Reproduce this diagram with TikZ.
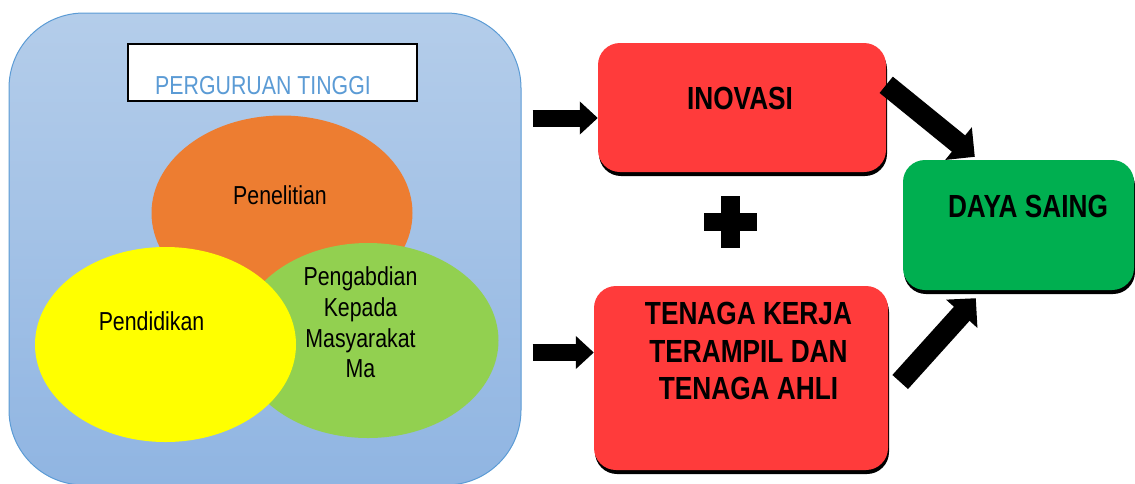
\documentclass[tikz,border=0pt]{standalone}
\usepackage{fontspec}
\newfontfamily\narrowfont{Liberation Sans}[FakeStretch=0.82]
\usetikzlibrary{arrows.meta,shapes.geometric,shadows,positioning}
\definecolor{panelTop}{HTML}{B4CDEA}
\definecolor{panelBot}{HTML}{90B5E2}
\definecolor{panelLine}{HTML}{5B9BD5}
\definecolor{orangeC}{HTML}{ED7D31}
\definecolor{yellowC}{HTML}{FFFF00}
\definecolor{greenC}{HTML}{92D050}
\definecolor{redBox}{HTML}{FF3B3B}
\definecolor{greenBox}{HTML}{00AF50}
\tikzset{
  circlenode/.style={ellipse, minimum width=261pt, minimum height=195pt, inner sep=0pt},
  smalltext/.style={font=\narrowfont\fontsize{26}{30.7}\selectfont, align=center, inner sep=0pt},
  bigtext/.style={font=\narrowfont\bfseries\fontsize{32}{37.7}\selectfont, align=center, inner sep=0pt},
  outbox/.style={rounded corners=22pt, drop shadow={shadow xshift=1pt, shadow yshift=-4pt, opacity=1, fill=black}},
  blockarrow/.style={line width=17pt, -{Triangle[length=18pt, width=32pt]}},
  bigarrow/.style={line width=21pt, -{Triangle[length=21pt, width=41pt]}}
}

\begin{document}
\begin{tikzpicture}[x=1pt,y=-1pt]
    \useasboundingbox (0,0) rectangle (1135,483);
    \node[draw=panelLine, line width=1pt, rounded corners=75pt, top color=panelTop, bottom color=panelBot,
          minimum width=512pt, minimum height=472pt] (panel) at (265,249) {};
    \node[draw, fill=white, line width=1.2pt, minimum width=289pt, minimum height=57pt, inner sep=0pt] (titlebox) at (272.5,72.5) {};
    \node[smalltext, text=panelLine, anchor=base] (title) at (263,94) {PERGURUAN TINGGI};
    \foreach \name/\col/\cx/\cy in {riset/orangeC/282/213, abdi/greenC/368/340.5, didik/yellowC/165.5/344.5}{
        \node[circlenode, fill=\col] (\name) at (\cx,\cy) {};
    }
    \node[smalltext] (risettext) at ([xshift=-2pt,yshift=18pt]riset.center) {Penelitian};
    \node[smalltext] (didiktext) at ([xshift=-14pt,yshift=23.5pt]didik.center) {Pendidikan};
    \node[smalltext] (abditext) at ([xshift=-7.5pt,yshift=18pt]abdi.center) {Pengabdian\\Kepada\\Masyarakat\\Ma};

    \node[outbox, fill=redBox, minimum width=288pt, minimum height=129pt] (inovasi) at (742,107.5) {};
    \node[outbox, fill=redBox, minimum width=294pt, minimum height=184pt] (tenaga) at (741,378) {};
    \node[outbox, fill=greenBox, minimum width=231pt, minimum height=130pt] (daya) at (1018.5,225) {};
    \node[bigtext] (inovasitext) at ([xshift=-2pt,yshift=9pt]inovasi.center) {INOVASI};
    \node[bigtext] (tenagatext) at ([xshift=7.5pt,yshift=27pt]tenaga.center) {TENAGA KERJA\\TERAMPIL DAN\\TENAGA AHLI};
    \node[bigtext] (dayatext) at ([xshift=9.5pt,yshift=19pt]daya.center) {DAYA SAING};

    \foreach \target/\yy in {inovasi/118, tenaga/352.5}{
        \draw[blockarrow, shorten <=11pt] (panel.east |- 0,\yy) -- (\target.west |- 0,\yy);
    }
    \draw[bigarrow] ([yshift=-42pt]inovasi.north east) -- ([xshift=72pt,yshift=3pt]daya.north west);
    \draw[bigarrow] ([xshift=12pt,yshift=-4pt]tenaga.east) -- ([xshift=73pt,yshift=-8pt]daya.south west);

    \fill (721,196) rectangle (740,248);
    \fill (704,213) rectangle (757,231);
\end{tikzpicture}
\end{document}
